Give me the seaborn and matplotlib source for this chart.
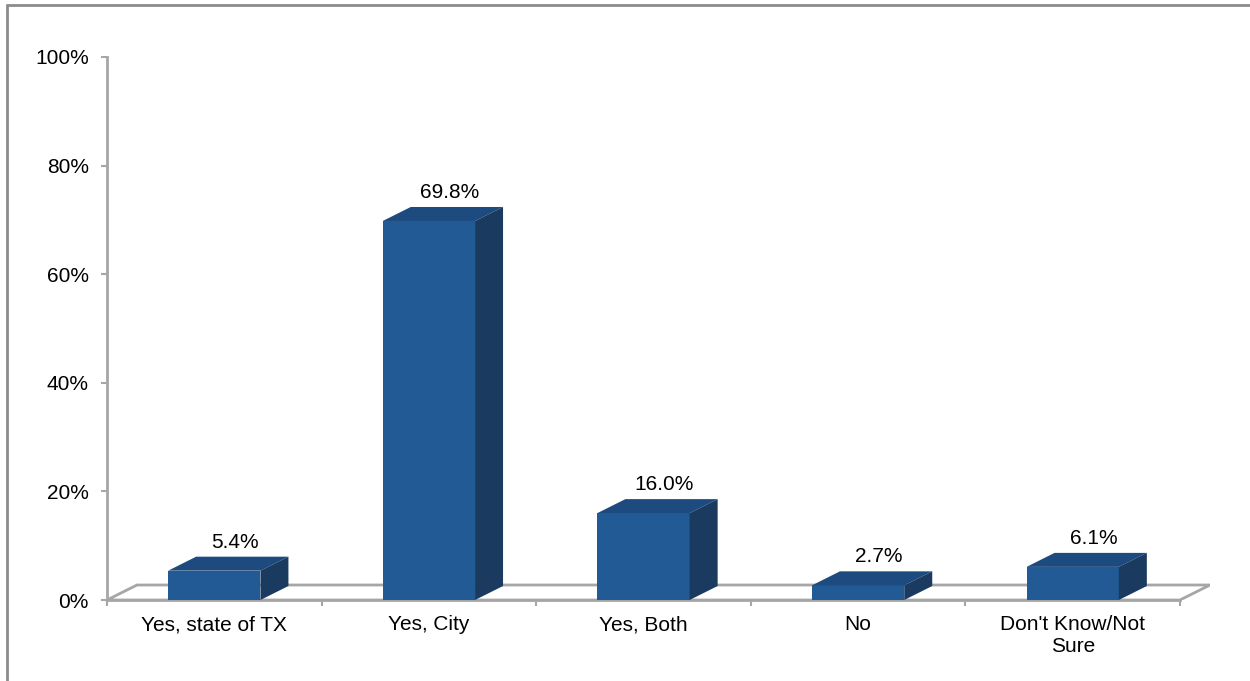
import numpy as np
import pandas as pd
import seaborn as sns
import matplotlib.pyplot as plt
from matplotlib.patches import Polygon
from matplotlib.lines import Line2D

# Dados do grafico
categories = ["Yes, state of TX", "Yes, City", "Yes, Both", "No", "Don't Know/Not\nSure"]
values = [5.4, 69.8, 16.0, 2.7, 6.1]
value_labels = ["5.4%", "69.8%", "16.0%", "2.7%", "6.1%"]
yticks = [0, 20, 40, 60, 80, 100]
ytick_labels = ["0%", "20%", "40%", "60%", "80%", "100%"]

df = pd.DataFrame({"cat": categories, "val": values})

W, H = 1250, 681
front_color = "#215A94"
top_color = "#1D4A7F"
side_color = "#1A3A60"
axis_gray = "#A6A6A6"
fs = 15

sns.set_theme(style="white")
plt.rcParams["font.family"] = ["Liberation Sans", "DejaVu Sans"]

fig = plt.figure(figsize=(W / 100, H / 100), dpi=100)
ax = fig.add_axes([107 / W, 81 / H, (1210 - 107) / W, (600 - 57) / H])

cat_px = 1073 / 5
pct_px = (600 - 57) / 100
# profundidade do piso e das barras (efeito 3D)
dx, dy = 30 / cat_px, 15 / pct_px
bdx, bdy = 28 / cat_px, 14 / pct_px

sns.barplot(data=df, x="cat", y="val", color=front_color, saturation=1,
            width=0.43, ax=ax, zorder=3, linewidth=0)
bars = list(ax.patches)

# piso
floor = Polygon([(-0.5, 0), (-0.5 + dx, dy), (4.5 + dx, dy), (4.5, 0)],
                closed=True, facecolor="white", edgecolor=axis_gray,
                linewidth=2, zorder=1)
ax.add_patch(floor)

for bar, lab in zip(bars, value_labels):
    x0 = bar.get_x()
    w = bar.get_width()
    h = bar.get_height()
    x1 = x0 + w
    top = Polygon([(x0, h), (x0 + bdx, h + bdy), (x1 + bdx, h + bdy), (x1, h)],
                  closed=True, facecolor=top_color, edgecolor="none", zorder=3)
    side = Polygon([(x1, 0), (x1, h), (x1 + bdx, h + bdy), (x1 + bdx, bdy)],
                   closed=True, facecolor=side_color, edgecolor="none", zorder=3)
    ax.add_patch(top)
    ax.add_patch(side)
    ax.text(x0 + w / 2 + bdx * 0.75, h + bdy + 0.9, lab, ha="center",
            va="bottom", fontsize=fs, color="black", zorder=4)

ax.set_xlim(-0.5, 4.5 + dx)
ax.set_ylim(0, 100)
ax.set_xlabel("")
ax.set_ylabel("")

ax.set_yticks(yticks, ytick_labels)
ax.set_xticks(range(len(categories)), categories)
ax.set_xticks(np.arange(-0.5, 5, 1), minor=True)

ax.tick_params(axis="y", left=True, direction="out", length=4, width=1.5,
               color=axis_gray, pad=9, labelsize=fs, labelcolor="black")
ax.tick_params(axis="x", which="major", bottom=True, length=0, pad=11,
               labelsize=fs, labelcolor="black")
ax.tick_params(axis="x", which="minor", bottom=True, direction="out",
               length=4, width=1.5, color=axis_gray)

for s in ["top", "right"]:
    ax.spines[s].set_visible(False)
ax.spines["left"].set_color(axis_gray)
ax.spines["left"].set_linewidth(2)
ax.spines["left"].set_bounds(0, 100)
ax.spines["bottom"].set_color(axis_gray)
ax.spines["bottom"].set_linewidth(2)
ax.spines["bottom"].set_bounds(-0.5, 4.5)
ax.patch.set_alpha(0)

# moldura externa
fig.add_artist(Line2D([7 / W, 7 / W], [0, 1 - 4.5 / H], transform=fig.transFigure,
                      color="#8C8C8C", linewidth=2))
fig.add_artist(Line2D([7 / W, 1], [1 - 4.5 / H, 1 - 4.5 / H], transform=fig.transFigure,
                      color="#8C8C8C", linewidth=2))

fig.savefig("out.png", dpi=100)
